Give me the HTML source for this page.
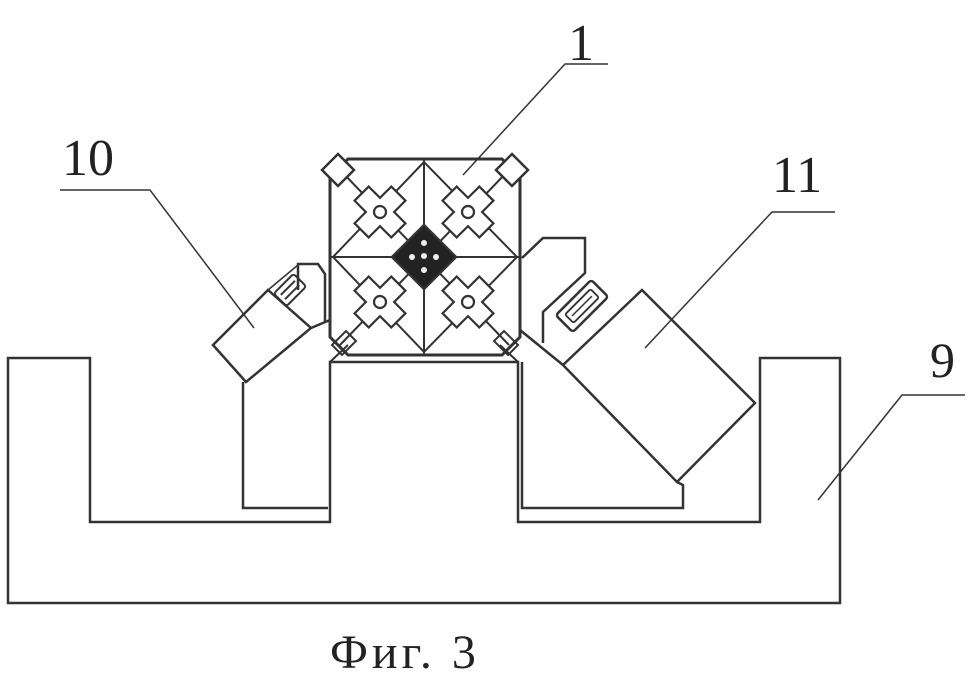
<!DOCTYPE html>
<html><head><meta charset="utf-8"><style>
html,body{margin:0;padding:0;background:#fff;}
svg{display:block}
text{font-family:"Liberation Serif",serif;fill:#222}
</style></head><body>
<svg width="978" height="677" viewBox="0 0 978 677" xmlns="http://www.w3.org/2000/svg">
<g fill="none" stroke="#333" stroke-width="2.5">
<path d="M8,358 H90 V522 H330 V362 H518 V522 H760 V358 H840 V603 H8 Z"/>
<path d="M243,382 V508 H328"/>
<path d="M298,290 V264 H318 L325,274 V322"/>
<path d="M213,345 L268,290 L311,328 L246,382 Z"/>
<path d="M268,290 L298,265" stroke-width="1.5"/>
<g transform="translate(290,290) rotate(-45)"><rect x="-14" y="-9" width="28" height="18" rx="3" stroke-width="2"/><path d="M-10,-3 H10 M-10,3 H10" stroke-width="2"/></g>
<path d="M311,328 L330,320"/>
<path d="M348,159 H502 L520,177 V337 L502,355 H348 L330,337 V177 Z" stroke-width="3"/>
<path d="M424,159 V355 M330,257 H520" stroke-width="2"/>
<path d="M424,162 L333,257 L424,352 L517,257 Z" stroke-width="2"/>
<path d="M340,170 L509,345 M509,170 L340,345" stroke-width="2"/>
<path d="M424,225 L456,257 L424,289 L392,257 Z" fill="#222"/>
<g fill="#eee" stroke="none"><circle cx="424" cy="243" r="3"/><circle cx="412" cy="257" r="3"/><circle cx="436" cy="257" r="3"/><circle cx="424" cy="270" r="3"/><circle cx="424" cy="256" r="3"/></g>
<path d="M322,170 l16,-16 l16,16 l-16,16 Z M528,170 l-16,-16 l-16,16 l16,16 Z" fill="#fff"/>
<path d="M332,345 l14,-14 l10,10 l-14,14 Z M518,345 l-14,-14 l-10,10 l14,14 Z" stroke-width="2"/>
<path d="M330,362 L348,345 M518,362 L500,345" stroke-width="2"/>
<g stroke-width="2.2" fill="#fff">
<g transform="translate(380,212) rotate(45)"><path d="M-10,-26 H10 V-10 H26 V10 H10 V26 H-10 V10 H-26 V-10 H-10 Z"/><circle r="6"/></g>
<g transform="translate(468,212) rotate(45)"><path d="M-10,-26 H10 V-10 H26 V10 H10 V26 H-10 V10 H-26 V-10 H-10 Z"/><circle r="6"/></g>
<g transform="translate(380,302) rotate(45)"><path d="M-10,-26 H10 V-10 H26 V10 H10 V26 H-10 V10 H-26 V-10 H-10 Z"/><circle r="6"/></g>
<g transform="translate(468,302) rotate(45)"><path d="M-10,-26 H10 V-10 H26 V10 H10 V26 H-10 V10 H-26 V-10 H-10 Z"/><circle r="6"/></g>
</g>
<path d="M522,258 L543,238 H585 V273 L543,312 V343"/>
<path d="M522,362 V508 H683 V485 L677,482"/>
<path d="M563,365 L642,290 L755,403 L677,482 Z"/>
<path d="M520,330 L563,365"/>
<g transform="translate(582,306) rotate(-45)"><rect x="-25" y="-12" width="50" height="24" rx="3" fill="#fff"/><rect x="-18" y="-6" width="36" height="12" rx="2" stroke-width="1.8"/><path d="M-14,0 H14" stroke-width="1.5"/></g>
</g>
<g fill="none" stroke="#333" stroke-width="1.5">
<path d="M608,64 H565 L463,175"/>
<path d="M60,190 H150 L254,328"/>
<path d="M835,212 H772 L645,348"/>
<path d="M965,395 H902 L818,500"/>
</g>
<text x="568" y="60" font-size="52">1</text>
<text x="62" y="175" font-size="52">10</text>
<text x="772" y="192" font-size="52">11</text>
<text x="930" y="377" font-size="50">9</text>
<text x="330" y="668" font-size="48" letter-spacing="4">Фиг. 3</text>
</svg>
</body></html>
